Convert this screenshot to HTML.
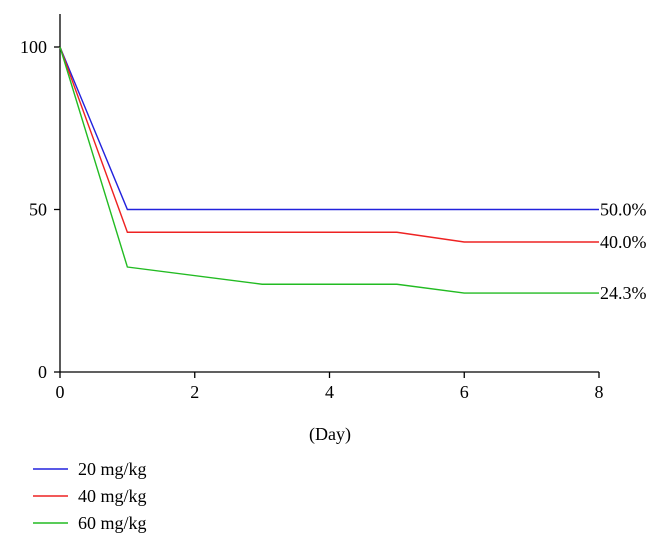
<!DOCTYPE html>
<html><head><meta charset="utf-8"><style>
body{margin:0;background:#fff;}
svg{display:block;font-family:"Liberation Serif",serif;}
</style></head><body>
<svg id="chart" width="665" height="551" viewBox="0 0 665 551"></svg>
<script>
const days=[0,1,3,5,6,8];
const blueVals=[100,50,50,50,50,50];
const redVals=[100,43,43,43,40,40];
const greenVals=[100,32.3,27,27,24.3,24.3];
const xTicks=[0,2,4,6,8];
const yTicks=[0,50,100];
const endLabels=["50.0%","40.0%","24.3%"];
const seriesNames=["20 mg/kg","40 mg/kg","60 mg/kg"];

const NS="http://www.w3.org/2000/svg";
const svg=document.getElementById('chart');
const x=v=>60+v*(599-60)/8;
const y=v=>372-v*(372-47)/100;
function mk(t,a,p){const e=document.createElementNS(NS,t);for(const k in a)e.setAttribute(k,a[k]);(p||svg).appendChild(e);return e;}

const yAxis=mk('line',{x1:60,y1:14,x2:60,y2:372,stroke:'#000','stroke-width':1.3});


const xAxis=mk('line',{x1:60,y1:372,x2:599,y2:372,stroke:'#000','stroke-width':1.3});



yTicks.forEach(v=>{
  const t=mk('line',{x1:54,y1:y(v),x2:60,y2:y(v),stroke:'#000','stroke-width':1.3});
  
  
  const l=mk('text',{x:47,y:y(v)+6,'text-anchor':'end','font-size':18});
  l.textContent=v;
  
  
});
xTicks.forEach(v=>{
  const t=mk('line',{x1:x(v),y1:372,x2:x(v),y2:378,stroke:'#000','stroke-width':1.3});
  
  
  const l=mk('text',{x:x(v),y:398,'text-anchor':'middle','font-size':18});
  l.textContent=v;
  
  
});
const xt=mk('text',{x:330,y:440,'text-anchor':'middle','font-size':18});
xt.textContent='(Day)';



const series=[blueVals,redVals,greenVals];
const colors=['#2222dd','#ee2222','#22bb22'];
series.forEach((vals,i)=>{
  const pts=days.map((d,j)=>x(d)+','+y(vals[j])).join(' ');
  const p=mk('polyline',{points:pts,fill:'none',stroke:colors[i],'stroke-width':1.4});
  
  
  const l=mk('text',{x:600,y:y(vals[vals.length-1])+6,'font-size':18});
  l.textContent=endLabels[i];
  
  
  const ly=469+i*27;
  const ll=mk('line',{x1:33,y1:ly,x2:68,y2:ly,stroke:colors[i],'stroke-width':1.4});
  
  
  const lt=mk('text',{x:78,y:ly+6,'font-size':18});
  lt.textContent=seriesNames[i];
  
  
});
</script>
</body></html>
